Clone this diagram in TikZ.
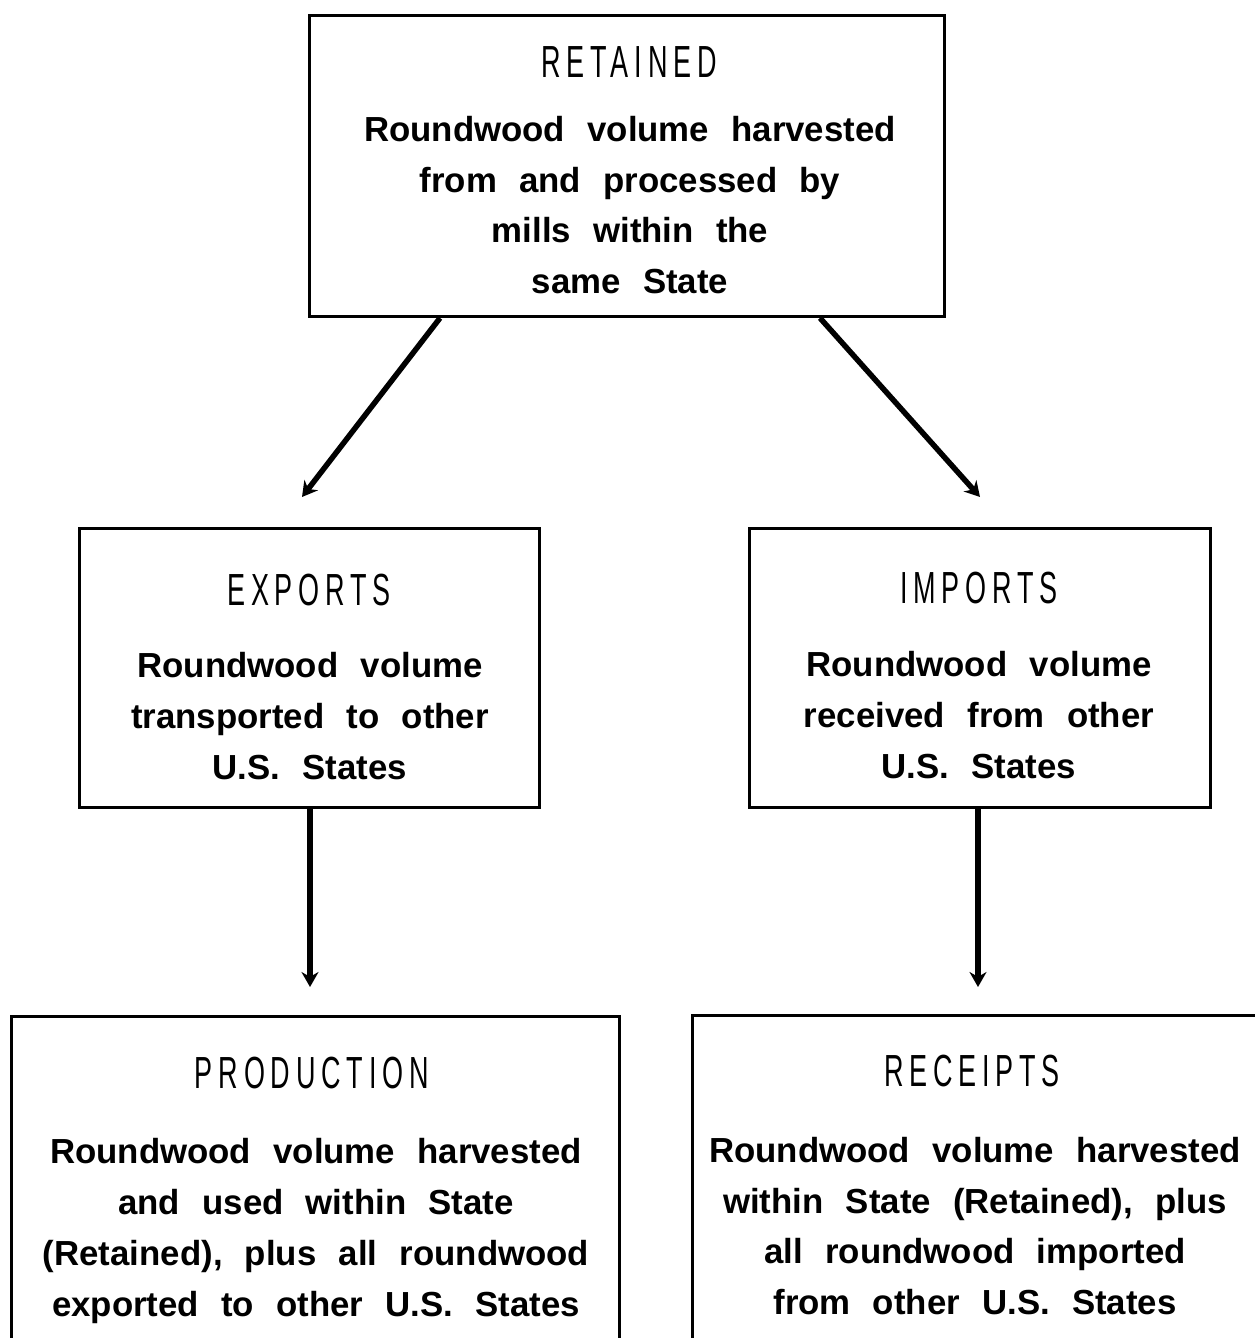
\documentclass[tikz,border=0pt]{standalone}
\usepackage{fontspec}
\usetikzlibrary{arrows.meta,calc}
\newfontfamily\bodyfont[WordSpace=2.3]{Liberation Sans}
\newfontfamily\titlefont[FakeStretch=0.6,LetterSpace=13]{Liberation Sans}
\tikzset{
  box/.style={draw=black,line width=3pt,fill=none,inner sep=0pt,anchor=north west},
  ttl/.style={font=\titlefont\fontsize{45}{50}\selectfont,inner sep=0pt},
  bodytxt/.style={font=\bodyfont\bfseries\fontsize{34.8}{50.8}\selectfont,align=center,inner sep=0pt},
  arr/.style={line width=5.5pt,-{Stealth[length=15pt,width=17pt]}}
}
\begin{document}
\begin{tikzpicture}[x=1pt,y=-1pt]
\useasboundingbox (0,0) rectangle (1255,1338);
\clip (0,0) rectangle (1255,1338);
% boxes
\node[box,minimum width=635pt,minimum height=301pt] (ret) at (308,14) {};
\node[box,minimum width=460pt,minimum height=279pt] (exp) at (78,527) {};
\node[box,minimum width=461pt,minimum height=279pt] (imp) at (748,527) {};
\node[box,minimum width=608pt,minimum height=400pt] (prod) at (10,1015) {};
\node[box,minimum width=620pt,minimum height=400pt] (rec) at (691,1014) {};
% titles
\node[ttl] (retT) at (629,62) {RETAINED};
\node[ttl] (expT) at (309,590) {EXPORTS};
\node[ttl] (impT) at (979,588) {IMPORTS};
\node[ttl] (prodT) at (312,1073) {PRODUCTION};
\node[ttl] (recT) at (972,1071) {RECEIPTS};
% body texts
\node[bodytxt] (retB) at (630,205) {Roundwood volume harvested\\from and processed by\\mills within the\\same State};
\node[bodytxt] (expB) at (310,716) {Roundwood  volume\\transported to other\\U.S. States};
\node[bodytxt] (impB) at (979,715) {Roundwood  volume\\received from other\\U.S. States};
\node[bodytxt] (prodB) at (316,1231) {Roundwood volume harvested\\and used within State\\(Retained), plus all roundwood\\exported to other U.S. States};
\node[bodytxt] (recB) at (975,1226) {Roundwood volume harvested\\within State (Retained), plus\\all roundwood imported\\from other U.S. States};
% arrow end points
\coordinate (tipL) at (302,497);
\coordinate (tipR) at (980,497);
\coordinate (tipP) at (310,987);
\coordinate (tipC) at (978,987);
% connectors
\draw[arr] ([xshift=132pt]ret.south west) -- (tipL);
\draw[arr] ([xshift=-126pt]ret.south east) -- (tipR);
\draw[arr] ([xshift=232pt]exp.south west) -- (tipP);
\draw[arr] ([xshift=230pt]imp.south west) -- (tipC);
\end{tikzpicture}
\end{document}
